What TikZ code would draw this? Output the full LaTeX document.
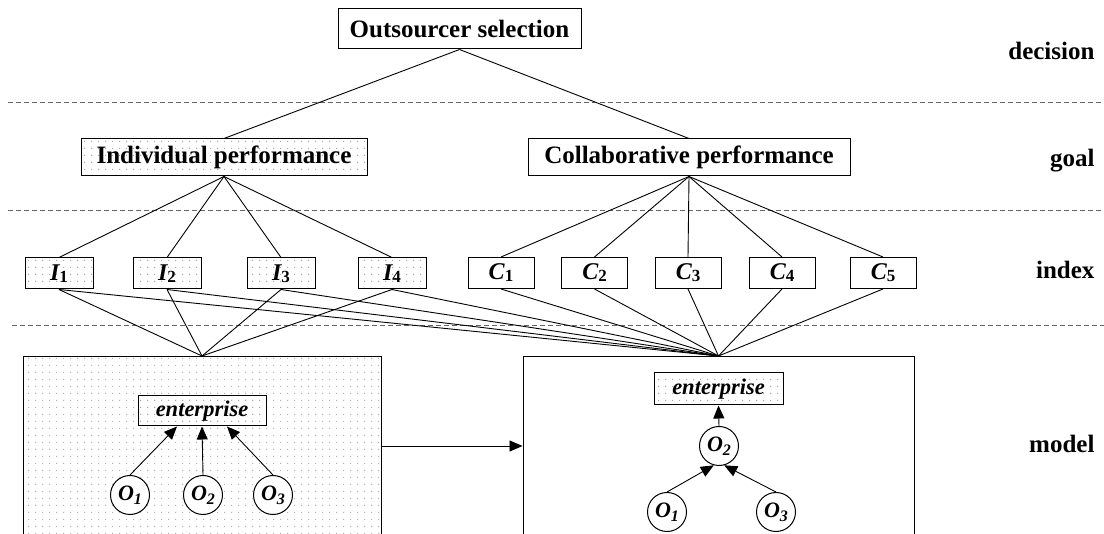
\documentclass[tikz,border=0pt]{standalone}
\usepackage{fontspec}
\setmainfont{Liberation Serif}
\usetikzlibrary{arrows.meta,patterns,calc}
\pgfdeclarepatternformonly{sdots}{\pgfpointorigin}{\pgfpoint{7pt}{7pt}}{\pgfpoint{7pt}{7pt}}{\pgfpathrectangle{\pgfpointorigin}{\pgfpoint{1.3pt}{1.3pt}}\pgfusepath{fill}}
\newcommand{\mysub}[1]{\raisebox{-2pt}{\fontsize{17}{17}\selectfont #1}}
\newcommand{\mysubo}[1]{\raisebox{-4pt}{\fontsize{16}{16}\selectfont #1}}
\begin{document}
\begin{tikzpicture}[x=1pt,y=-1pt,
  box/.style={draw, line width=1pt, inner sep=0pt, fill=white, font=\fontsize{25}{28}\selectfont\bfseries},
  dotbox/.style={box, pattern=sdots, pattern color=gray!70},
  idx/.style={font=\fontsize{24}{28}\selectfont\bfseries\itshape, minimum height=31},
  ent/.style={dotbox, font=\fontsize{22.5}{26}\selectfont\bfseries\itshape},
  circ/.style={circle, draw, line width=1pt, fill=white, minimum size=39, inner sep=0pt, font=\fontsize{22}{26}\selectfont\bfseries\itshape},
  model/.style={draw, line width=1pt, minimum height=200, anchor=north},
  ln/.style={draw, line width=0.9pt},
  arr/.style={ln, -{Triangle[length=13pt,width=11pt]}},
  sep/.style={draw, line width=1pt, gray!80!black, dash pattern=on 5pt off 3pt},
  lab/.style={anchor=base east, font=\fontsize{25}{28}\selectfont\bfseries}]
\useasboundingbox (0,0) rectangle (1104,534);
\clip (0,0) rectangle (1104,534);

% separators
\draw[sep] (8,103) -- (1104,103);
\draw[sep] (8,211) -- (1104,211);
\draw[sep] (12,326) -- (1104,326);

% level labels
\node[lab] (ld) at (1098,60) {decision};
\node[lab] (lg) at (1098,167) {goal};
\node[lab] (li) at (1098,279) {index};
\node[lab] (lm) at (1098,453) {model};

% top levels
\node[box, minimum width=243, minimum height=40] (OS) at (459.5,29) {Outsourcer selection};
\node[dotbox, minimum width=286, minimum height=37] (IP) at (224,157.5) {Individual performance};
\node[box, minimum width=322, minimum height=37] (CP) at (689,157.5) {Collaborative performance};

% index boxes
\foreach \x/\n in {59/1,167/2,281/3,392/4}
  \node[dotbox, idx, minimum width=68] (I\n) at (\x,273.5) {I\mysub{\upshape\n}};
\foreach \x/\n in {501/1,594.5/2,688/3,782/4,883/5}
  \node[box, idx, minimum width=66] (C\n) at (\x,273) {C\mysub{\upshape\n}};

% model boxes
\node[model, pattern=sdots, pattern color=gray!60, minimum width=358] (LM) at (202,356) {};
\node[model, fill=white, minimum width=391] (RM) at (718.5,356) {};

% left model content
\node[ent, minimum width=128, minimum height=30] (E1) at (202,411) {enterprise};
\node[circ] (L1) at (130,495) {O\mysubo{1}};
\node[circ] (L2) at (203,495) {O\mysubo{2}};
\node[circ] (L3) at (273,495) {O\mysubo{3}};

% right model content
\node[ent, minimum width=129, minimum height=32] (E2) at (718.5,389) {enterprise};
\node[circ] (R2) at (719,446) {O\mysubo{2}};
\node[circ] (R1) at (667,512) {O\mysubo{1}};
\node[circ] (R3) at (776,512) {O\mysubo{3}};

% connectors
\draw[ln] (OS.south) -- (IP.north);
\draw[ln] (OS.south) -- (CP.north);
\foreach \n in {1,...,4} \draw[ln] (IP.south) -- (I\n.north);
\foreach \n in {1,...,5} \draw[ln] (CP.south) -- (C\n.north);
\foreach \n in {1,...,4} {
  \draw[ln] (I\n.south) -- (LM.north);
  \draw[ln] (I\n.south) -- (RM.north);
}
\foreach \n in {1,...,5} \draw[ln] (C\n.south) -- (RM.north);

\draw[arr] (L1.north) -- ($(E1.south)+(-25,0)$);
\draw[arr] (L2.north) -- (E1.south);
\draw[arr] (L3.north) -- ($(E1.south)+(25,0)$);
\draw[arr] ($(LM.north east)+(0,90)$) -- ($(RM.north west)+(0,90)$);
\draw[arr] (R2.north) -- (E2.south);
\draw[arr] (R1.north) -- (R2.-105);
\draw[arr] (R3.north) -- (R2.-75);
\end{tikzpicture}
\end{document}
